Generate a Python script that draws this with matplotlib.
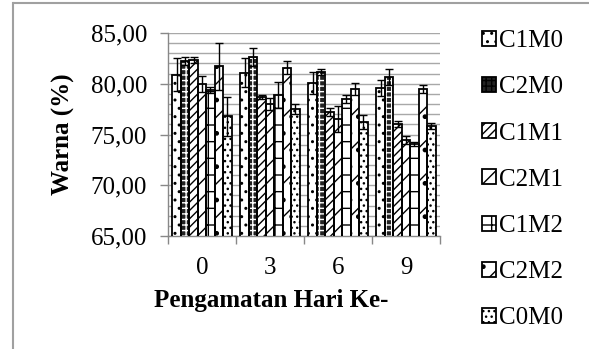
import matplotlib
matplotlib.use("Agg")
import matplotlib.pyplot as plt
import matplotlib.patches as mpatches
from matplotlib.lines import Line2D
from matplotlib.ticker import MultipleLocator, FixedLocator
import numpy as np

plt.rcParams['font.family'] = ['Liberation Serif', 'DejaVu Serif']
plt.rcParams['hatch.linewidth'] = 1.0

days = ['0', '3', '6', '9']
series = ['C1M0', 'C2M0', 'C1M1', 'C2M1', 'C1M2', 'C2M2', 'C0M0']
C1M0 = [80.9, 81.1, 80.1, 79.6]
C2M0 = [82.2, 82.6, 81.2, 80.7]
C1M1 = [82.3, 78.7, 77.2, 76.0]
C2M1 = [80.0, 78.0, 76.5, 74.5]
C1M2 = [79.4, 78.9, 78.5, 74.1]
C2M2 = [81.7, 81.6, 79.5, 79.5]
C0M0 = [76.8, 77.5, 76.2, 75.8]
C1M0_err = [1.6, 1.4, 1.1, 0.8]
C2M0_err = [0.4, 0.9, 0.3, 0.8]
C1M1_err = [0.3, 0.2, 0.4, 0.3]
C2M1_err = [0.8, 0.6, 1.3, 0.4]
C1M2_err = [0.3, 1.3, 0.4, 0.2]
C2M2_err = [2.3, 0.6, 0.6, 0.4]
C0M0_err = [1.9, 0.5, 0.7, 0.3]

values = [C1M0, C2M0, C1M1, C2M1, C1M2, C2M2, C0M0]
errors = [C1M0_err, C2M0_err, C1M1_err, C2M1_err, C1M2_err, C2M2_err, C0M0_err]

# (facecolor, hatchcolor, hatch)
styles = [
    ('white', 'black', '..'),
    ('#222222', 'white', '+++'),
    ('white', 'black', '////'),
    ('white', 'black', '//'),
    ('white', 'black', '-|'),
    ('white', 'black', '/.'),
    ('white', 'black', '...'),
]

W, H = 589, 349
fig = plt.figure(figsize=(W / 100, H / 100), dpi=100)
ax = fig.add_axes([168 / W, 1 - 236 / H, (440 - 168) / W, (236 - 33) / H])

n = len(series)
group_frac = 0.87
bw = group_frac / n
x = np.arange(len(days))
for i, (vals, errs, (fc, hc, hatch)) in enumerate(zip(values, errors, styles)):
    pos = x - group_frac / 2 + bw * (i + 0.5)
    ax.bar(pos, vals, bw, bottom=0, facecolor=fc, edgecolor=hc, hatch=hatch, linewidth=0, zorder=2)
    ax.bar(pos, vals, bw, bottom=0, fill=False, edgecolor='black', linewidth=1.3, zorder=3)
    ax.errorbar(pos, vals, yerr=errs, fmt='none', ecolor='black', elinewidth=1.0, capsize=3, capthick=1.0, zorder=4)

ax.set_ylim(65, 85)
ax.set_xlim(-0.5, len(days) - 0.5)
ax.yaxis.set_minor_locator(MultipleLocator(1))
ax.set_yticks([65, 70, 75, 80, 85])
ax.set_yticklabels(['65,00', '70,00', '75,00', '80,00', '85,00'])
ax.grid(axis='y', which='both', color='#a8a8a8', linewidth=1.0, zorder=0)
ax.set_axisbelow(True)
ax.tick_params(axis='y', which='major', length=6, width=1, color='#888888', pad=9, labelsize=18)
ax.tick_params(axis='y', which='minor', length=0)
ax.set_xticks(x)
ax.set_xticklabels(days)
ax.xaxis.set_minor_locator(FixedLocator(np.arange(-0.5, len(days), 1.0)))
ax.tick_params(axis='x', which='major', length=0, pad=15, labelsize=18)
ax.tick_params(axis='x', which='minor', length=6, width=1, color='#888888')
for s in ['top', 'right']:
    ax.spines[s].set_visible(False)
for s in ['left', 'bottom']:
    ax.spines[s].set_color('#888888')
    ax.spines[s].set_linewidth(1.0)

fig.text(63 / W, 1 - 134.5 / H, 'Warna (%)', rotation=90, ha='center', va='center',
         fontsize=18, fontweight='bold')
fig.text(271.5 / W, 1 - 300 / H, 'Pengamatan Hari Ke-', ha='center', va='center',
         fontsize=18, fontweight='bold')

handles = []
for (fc, hc, hatch) in styles:
    handles.append(mpatches.Patch(facecolor=fc, edgecolor='black', hatch=hatch, linewidth=1.3))
fig.legend(handles, series, loc='upper left', bbox_to_anchor=(482 / W, 1 - 30 / H),
           frameon=False, fontsize=18, handlelength=0.55, handleheight=0.55,
           handletextpad=0.15, labelspacing=0.97, borderpad=0, borderaxespad=0)

# chart frame (cropped)
fig.add_artist(Line2D([14 / W, 1.0], [1 - 3 / H, 1 - 3 / H], transform=fig.transFigure,
                      color='#a0a0a0', linewidth=1.5))
fig.add_artist(Line2D([13 / W, 13 / W], [0, 1 - 3 / H], transform=fig.transFigure,
                      color='#a0a0a0', linewidth=1.5))

fig.savefig('out.png', dpi=100)
